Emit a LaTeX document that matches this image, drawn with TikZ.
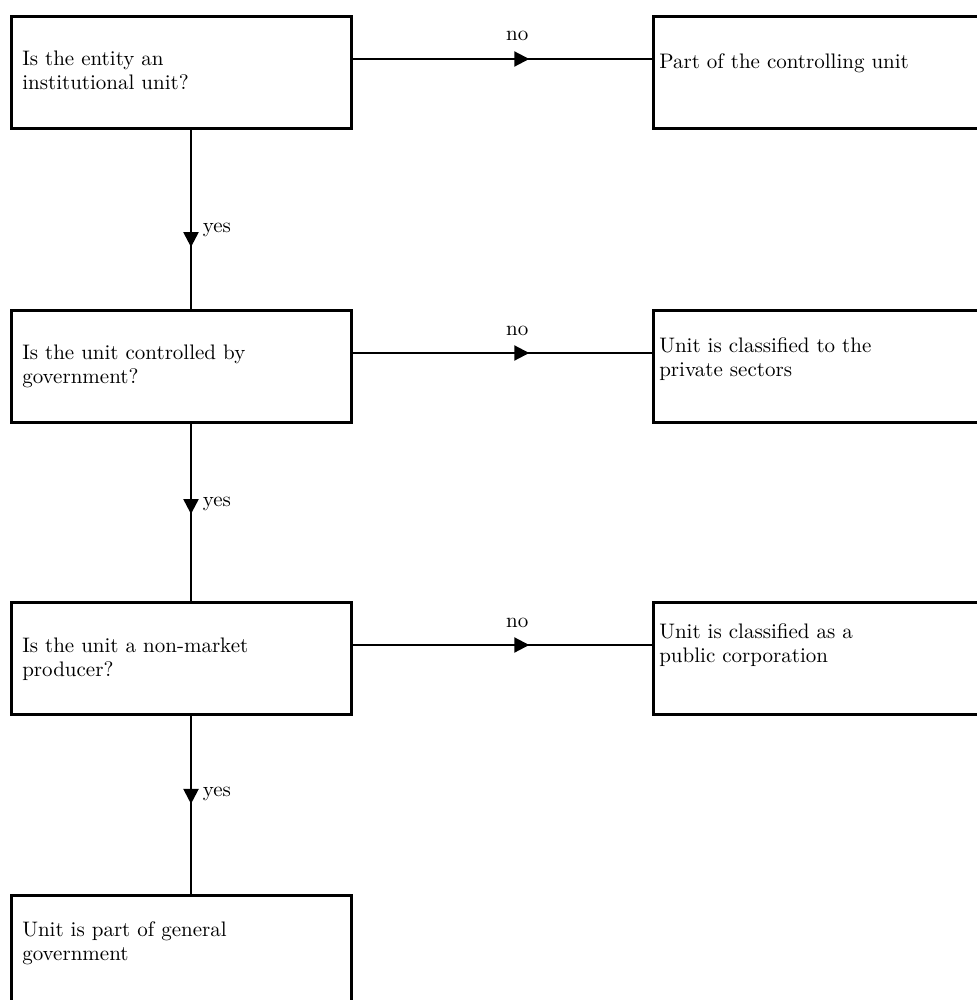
\documentclass[tikz,border=0pt]{standalone}
\usepackage{amsmath}
\usepackage{tikz}
\usetikzlibrary{arrows.meta,decorations.markings}

\tikzset{
    box/.style={draw, line width=1.3pt, anchor=north west, inner ysep=0pt,
        align=left, text height=#1, text depth={56pt-#1},
        font=\fontsize{10.5pt}{12pt}\selectfont},
    qbox/.style={box=#1, inner xsep=5.5pt, text width=159pt},
    abox/.style={box=#1, inner xsep=3pt, text width=164pt},
    flow/.style={line width=1.1pt},
    midarrow/.style={postaction={decorate}, decoration={markings,
        mark=at position #1 with {\arrow{Triangle[length=7.5pt,width=7.5pt]}}}}
}

\begin{document}
\begin{tikzpicture}[x=0.5pt, y=-0.5pt, font=\fontsize{10.5pt}{12pt}\selectfont]
                % Fix the page to the frame of the chart
                \useasboundingbox (0,0) rectangle (977,1000);
                \clip (0,0) rectangle (977,1000);
                % Draw the questions on the left
                \node[qbox=24.5pt] (inst) at (10,15) {Is the entity an\\institutional unit?};
                \node[qbox=24.5pt] (ctrl) at (10,309) {Is the unit controlled by\\government?};
                \node[qbox=25pt] (nonmkt) at (10,601) {Is the unit a non-market\\producer?};
                \node[qbox=20.5pt] (gg) at (10,894) {Unit is part of general\\government};
                % Draw the outcomes on the right
                \node[abox=26pt] (part) at (652,15) {Part of the controlling unit};
                \node[abox=21pt] (priv) at (652,309) {Unit is classified to the\\private sectors};
                \node[abox=18pt] (pubcorp) at (652,601) {Unit is classified as a\\public corporation};
                % Draw the no branches
                \foreach \q/\a in {inst/part, ctrl/priv, nonmkt/pubcorp}{
                    \draw[flow, midarrow=0.59] ([yshift=-22pt]\q.north east) -- ([yshift=-22pt]\a.north west)
                        node[pos=0.55, above=5pt] {no};
                }
                % Draw the yes branches
                \foreach \q/\n/\p/\l in {inst/ctrl/0.655/0.56, ctrl/nonmkt/0.51/0.455, nonmkt/gg/0.495/0.44}{
                    \draw[flow, midarrow=\p] ([xshift=90.5pt]\q.south west) -- ([xshift=90.5pt]\n.north west)
                        node[pos=\l, right=2pt] {yes};
                }
            \end{tikzpicture}
\end{document}
